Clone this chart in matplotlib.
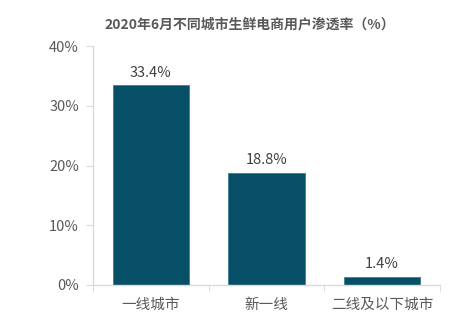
import matplotlib
matplotlib.use("Agg")
import matplotlib.pyplot as plt
import numpy as np

plt.rcParams['font.family'] = ['Noto Sans CJK SC', 'DejaVu Sans']

categories = ["一线城市", "新一线", "二线及以下城市"]
values = [33.4, 18.8, 1.4]
yticks = [0, 10, 20, 30, 40]
title = "2020年6月不同城市生鲜电商用户渗透率（%）"

bar_color = "#064F66"
text_color = "#595959"
axis_color = "#D9D9D9"

fig = plt.figure(figsize=(4.49, 3.25), dpi=100)
ax = fig.add_axes([93/449, 40/325, (440-93)/449, (285-46)/325])

x = np.arange(len(categories))
bars = ax.bar(x, values, width=0.66, color=bar_color, edgecolor="#3F7F93", linewidth=0.6)

for xi, v in zip(x, values):
    ax.annotate(f"{v:.1f}%", (xi, v), xytext=(0, 4), textcoords="offset points",
                ha="center", va="bottom", fontsize=10.5, color="#404040")

ax.set_xlim(-0.5, len(categories) - 0.5)
ax.set_ylim(0, 40)
ax.set_yticks(yticks)
ax.set_yticklabels([f"{t}%" for t in yticks])
ax.set_xticks(x)
ax.set_xticklabels(categories)
ax.set_xticks(np.arange(len(categories) + 1) - 0.5, minor=True)

for s in ["top", "right"]:
    ax.spines[s].set_visible(False)
for s in ["left", "bottom"]:
    ax.spines[s].set_color(axis_color)
    ax.spines[s].set_linewidth(1.0)

ax.tick_params(axis="y", length=5, color=axis_color, labelsize=10.5, labelcolor=text_color, pad=5)
ax.tick_params(axis="x", which="major", length=0, labelsize=10.5, labelcolor=text_color, pad=9)
ax.tick_params(axis="x", which="minor", length=5, color=axis_color)

fig.text(250/449, 1 - 25/325, title, ha="center", va="center", fontsize=10,
         fontweight="bold", color="#595959")

fig.savefig("out.png", dpi=100)
